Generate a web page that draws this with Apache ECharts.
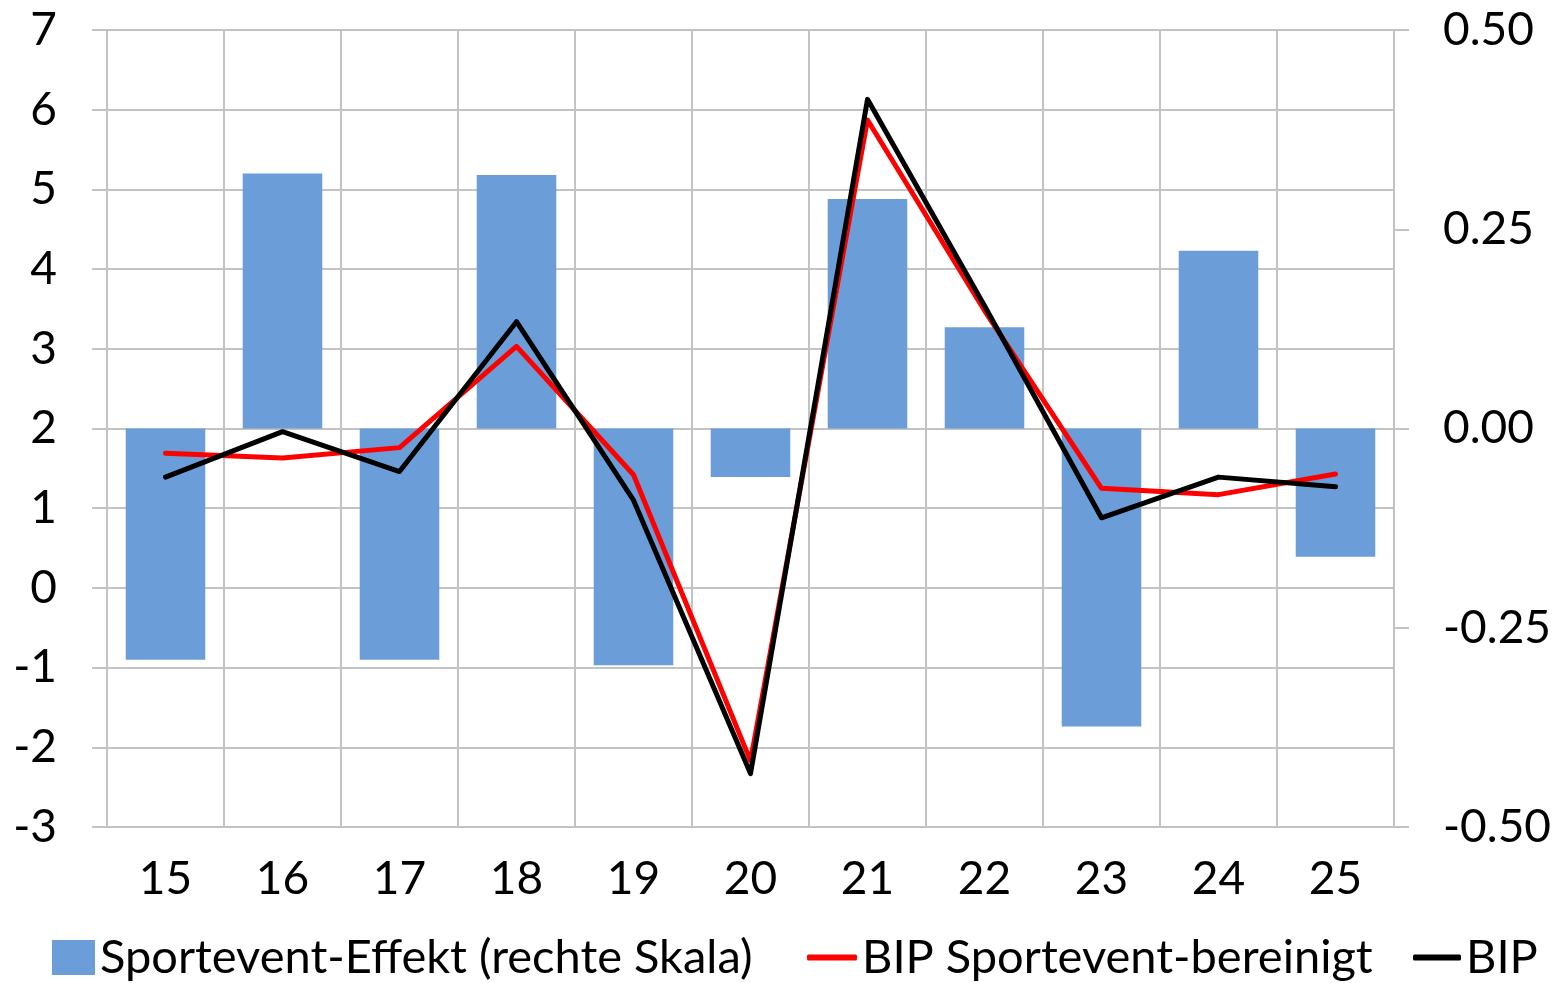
<!DOCTYPE html>
<html>
<head>
<meta charset="utf-8">
<script src="https://cdn.jsdelivr.net/npm/echarts@6/dist/echarts.min.js"></script>
<style>
html,body{margin:0;padding:0;background:#fff;}
#chart{width:1555px;height:983px;}
</style>
</head>
<body>
<div id="chart"></div>
<script>
const categories = ['15','16','17','18','19','20','21','22','23','24','25'];
const sportEffekt = [-0.290, 0.320, -0.290, 0.318, -0.297, -0.061, 0.288, 0.127, -0.374, 0.223, -0.161];
const bipBereinigt = [1.69, 1.63, 1.76, 3.03, 1.42, -2.17, 5.87, 3.48, 1.25, 1.17, 1.43];
const bip = [1.39, 1.96, 1.46, 3.34, 1.10, -2.33, 6.13, 3.54, 0.88, 1.39, 1.27];
const seriesNames = ['Sportevent-Effekt (rechte Skala)', 'BIP Sportevent-bereinigt', 'BIP'];

const FONT = 'Lato';
const GRAY = '#c3c3c3';
const legendText = {fontFamily: FONT, fontSize: 47, lineHeight: 47, color: '#000'};
const chart = echarts.init(document.getElementById('chart'), null, {renderer: 'canvas'});
chart.setOption({
  animation: false,
  backgroundColor: '#ffffff',
  textStyle: {fontFamily: FONT},
  grid: {left: 107, right: 161, top: 30, bottom: 156, containLabel: false},
  legend: [
    {
      left: 47, top: 929, itemWidth: 43, itemHeight: 35,
      textStyle: legendText,
      data: [{name: seriesNames[0], icon: 'rect'}]
    },
    {
      left: 802, top: 929, itemWidth: 50, itemHeight: 6,
      textStyle: legendText,
      data: [{name: seriesNames[1], icon: 'roundRect'}]
    },
    {
      left: 1408, top: 929, itemWidth: 48, itemHeight: 6,
      textStyle: legendText,
      data: [{name: seriesNames[2], icon: 'roundRect'}]
    }
  ],
  xAxis: {
    type: 'category',
    data: categories,
    boundaryGap: true,
    axisLine: {show: true, lineStyle: {color: GRAY, width: 2}},
    axisTick: {show: true, length: 15, lineStyle: {color: GRAY, width: 2}},
    splitLine: {show: true, lineStyle: {color: GRAY, width: 2}},
    axisLabel: {fontFamily: FONT, fontSize: 46, color: '#000', margin: 29, lineHeight: 46}
  },
  yAxis: [
    {
      type: 'value', min: -3, max: 7, interval: 1, position: 'left',
      axisLine: {show: true, lineStyle: {color: GRAY, width: 2}},
      axisTick: {show: true, length: 15, lineStyle: {color: GRAY, width: 2}},
      splitLine: {show: true, lineStyle: {color: GRAY, width: 2}},
      axisLabel: {fontFamily: FONT, fontSize: 46, color: '#000', margin: 50}
    },
    {
      type: 'value', min: -0.5, max: 0.5, interval: 0.25, position: 'right',
      axisLine: {show: true, lineStyle: {color: GRAY, width: 2}},
      axisTick: {show: true, length: 15, lineStyle: {color: GRAY, width: 2}},
      splitLine: {show: false},
      axisLabel: {fontFamily: FONT, fontSize: 46, color: '#000', margin: 49,
        formatter: v => v.toFixed(2)}
    }
  ],
  series: [
    {
      name: seriesNames[0], type: 'bar', yAxisIndex: 1, data: sportEffekt,
      barWidth: '68%', itemStyle: {color: '#6b9ed9'}, z: 2
    },
    {
      name: seriesNames[1], type: 'line', yAxisIndex: 0, data: bipBereinigt,
      symbol: 'none', lineStyle: {color: '#ff0000', width: 5, join: 'round', cap: 'round'},
      itemStyle: {color: '#ff0000'}, z: 3
    },
    {
      name: seriesNames[2], type: 'line', yAxisIndex: 0, data: bip,
      symbol: 'none', lineStyle: {color: '#000000', width: 5, join: 'round', cap: 'round'},
      itemStyle: {color: '#000000'}, z: 4
    }
  ]
});
</script>
</body>
</html>
